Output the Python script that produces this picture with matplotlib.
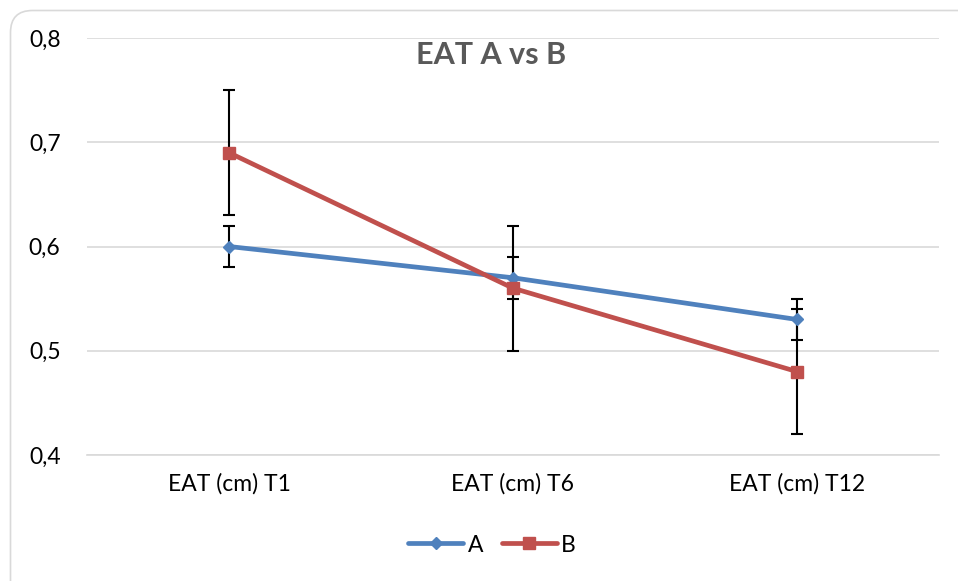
import matplotlib
matplotlib.use("Agg")
import matplotlib.pyplot as plt
from matplotlib.patches import FancyBboxPatch

categories = ["EAT (cm) T1", "EAT (cm) T6", "EAT (cm) T12"]
series_a = [0.60, 0.57, 0.53]
err_a = [0.02, 0.02, 0.02]
series_b = [0.69, 0.56, 0.48]
err_b = [0.06, 0.06, 0.06]
yticks = [0.4, 0.5, 0.6, 0.7, 0.8]
ytick_labels = ["0,4", "0,5", "0,6", "0,7", "0,8"]

plt.rcParams['font.family'] = ['Lato', 'DejaVu Sans']

W, H = 958, 581
fig = plt.figure(figsize=(W / 100, H / 100), dpi=100)
fig.patch.set_facecolor("white")

# rounded chart border
border = FancyBboxPatch((10.5, -60), 1000, 581 - 10.5 + 60,
                        boxstyle="round,pad=0,rounding_size=22",
                        transform=None, facecolor="none",
                        edgecolor="#d9d9d9", linewidth=1.2)
fig.patches.append(border)

ax = fig.add_axes([87 / W, 1 - 455 / H, (939 - 87) / W, (455 - 38) / H])
ax.set_facecolor("none")
x = list(range(len(categories)))

blue = "#4f81bd"
red = "#c0504d"

ax.errorbar(x, series_a, yerr=err_a, fmt="none", ecolor="black",
            elinewidth=1.5, capsize=4.5, capthick=1.5, zorder=2)
ax.errorbar(x, series_b, yerr=err_b, fmt="none", ecolor="black",
            elinewidth=1.5, capsize=4.5, capthick=1.5, zorder=2)
ax.plot(x, series_a, color=blue, lw=3.4, marker="D", markersize=6.5,
        label="A", zorder=3, solid_capstyle="round")
ax.plot(x, series_b, color=red, lw=3.4, marker="s", markersize=8,
        label="B", zorder=4, solid_capstyle="round")

ax.set_xlim(-0.5, 2.5)
ax.set_ylim(0.4, 0.8)
ax.set_yticks(yticks)
ax.set_yticklabels(ytick_labels)
ax.set_xticks(x)
ax.set_xticklabels(categories)
ax.tick_params(axis="both", length=0, labelsize=16.5, colors="black")
ax.tick_params(axis="y", pad=19)
ax.tick_params(axis="x", pad=13)
ax.grid(axis="y", color="#d9d9d9", lw=1.2)
ax.set_axisbelow(True)
for s in ["left", "right", "top"]:
    ax.spines[s].set_visible(False)
ax.spines["bottom"].set_color("#d9d9d9")
ax.spines["bottom"].set_linewidth(1.2)

fig.text(491 / W, 1 - 55 / H, "EAT A vs B", ha="center", va="center",
         fontsize=22, fontweight="bold", color="#595959")

fig.legend(loc="center", bbox_to_anchor=(492 / W, 1 - 545 / H), ncol=2,
           frameon=False, fontsize=16.5, handlelength=2.4, handletextpad=0.2,
           columnspacing=0.8)

fig.savefig("out.png", dpi=100)
